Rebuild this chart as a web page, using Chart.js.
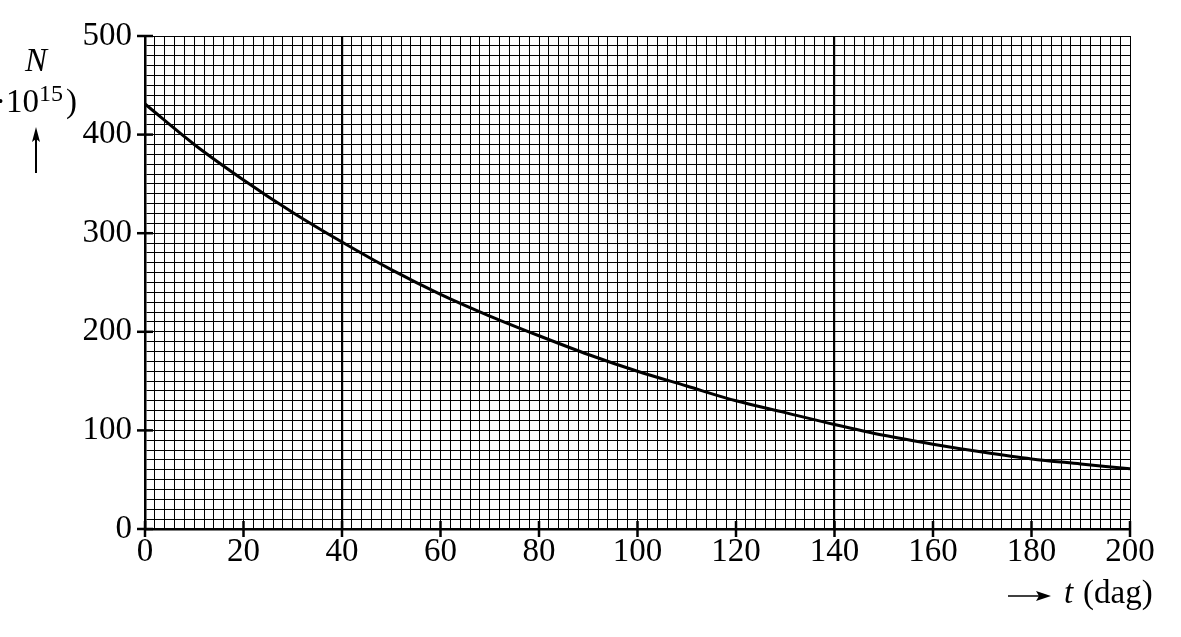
<!DOCTYPE html>
<html>
<head>
<meta charset="UTF-8">
<title>N tegen t</title>
<script src="https://cdn.jsdelivr.net/npm/chart.js@4.4.1/dist/chart.umd.min.js"></script>
<style>
  body { margin: 0; background: #fff; }
  canvas { display: block; }
</style>
</head>
<body>
<canvas id="myChart" width="1181" height="637"></canvas>
<script>
// t (dag) en N (x 10^15)
var tValues = [0, 10, 20, 30, 40, 50, 60, 70, 80, 90, 100, 110, 120, 130, 140, 150, 160, 170, 180, 190, 200];
var nValues = [431, 390, 354, 321, 291, 263, 238, 216, 196, 177, 160, 145, 130, 118, 106, 95, 86, 78, 71, 66, 61];
var xTickLabels = [0, 20, 40, 60, 80, 100, 120, 140, 160, 180, 200];
var yTickLabels = [0, 100, 200, 300, 400, 500];
var boldLines = [40, 140];

var serif = "'Liberation Serif', 'DejaVu Serif', serif";

var points = [];
for (var i = 0; i < tValues.length; i++) {
  points.push({ x: tValues[i], y: nValues[i] });
}

// kruisende streepjes bij de getallen + aslabels
var extras = {
  id: 'extras',
  afterDraw: function (chart) {
    var ctx = chart.ctx;
    var xs = chart.scales.x, ys = chart.scales.y;
    ctx.save();
    ctx.strokeStyle = '#000';
    ctx.lineWidth = 2.5;
    xTickLabels.forEach(function (v) {
      var px = xs.getPixelForValue(v);
      ctx.beginPath();
      ctx.moveTo(px, ys.bottom - 8);
      ctx.lineTo(px, ys.bottom + 8);
      ctx.stroke();
    });
    yTickLabels.forEach(function (v) {
      var py = ys.getPixelForValue(v);
      ctx.beginPath();
      ctx.moveTo(xs.left - 8, py);
      ctx.lineTo(xs.left + 8, py);
      ctx.stroke();
    });

    ctx.fillStyle = '#000';
    ctx.textBaseline = 'alphabetic';

    // y-as label
    ctx.font = 'italic 33px ' + serif;
    ctx.textAlign = 'center';
    ctx.fillText('N', 36, 71);
    ctx.font = '33px ' + serif;
    ctx.textAlign = 'right';
    ctx.fillText('(\u00b710', 39, 112);
    ctx.textAlign = 'left';
    ctx.font = '24px ' + serif;
    ctx.fillText('15', 39, 101);
    ctx.font = '33px ' + serif;
    ctx.fillText(')', 66, 112);

    // pijl omhoog
    ctx.lineWidth = 2;
    ctx.beginPath();
    ctx.moveTo(36, 173);
    ctx.lineTo(36, 135);
    ctx.stroke();
    ctx.beginPath();
    ctx.moveTo(36, 127);
    ctx.lineTo(32, 142);
    ctx.lineTo(36, 139);
    ctx.lineTo(40, 142);
    ctx.closePath();
    ctx.fill();

    // x-as label
    ctx.lineWidth = 1.5;
    ctx.beginPath();
    ctx.moveTo(1008, 596);
    ctx.lineTo(1042, 596);
    ctx.stroke();
    ctx.beginPath();
    ctx.moveTo(1051, 596);
    ctx.lineTo(1036, 591);
    ctx.lineTo(1039, 596);
    ctx.lineTo(1036, 601);
    ctx.closePath();
    ctx.fill();
    ctx.textAlign = 'left';
    ctx.font = 'italic 33px ' + serif;
    ctx.fillText('t', 1064, 603);
    ctx.font = '33px ' + serif;
    ctx.fillText('(dag)', 1083, 603);
    ctx.restore();
  }
};

var ctx = document.getElementById('myChart').getContext('2d');
var myChart = new Chart(ctx, {
  type: 'line',
  data: {
    datasets: [{
      data: points,
      borderColor: '#000',
      borderWidth: 3,
      pointRadius: 0,
      fill: false,
      cubicInterpolationMode: 'monotone'
    }]
  },
  options: {
    responsive: false,
    animation: false,
    layout: { padding: { left: 0, right: 51, top: 36, bottom: 0 } },
    plugins: { legend: { display: false }, tooltip: { enabled: false } },
    scales: {
      x: {
        type: 'linear',
        min: 0,
        max: 200,
        afterFit: function (s) { s.height = 108; },
        ticks: {
          stepSize: 2,
          autoSkip: false,
          maxRotation: 0,
          padding: 4,
          color: '#000',
          font: { family: serif, size: 33 },
          callback: function (v) { return xTickLabels.indexOf(v) >= 0 ? String(v) : ''; }
        },
        grid: {
          color: '#000',
          drawTicks: false,
          lineWidth: function (c) { return boldLines.indexOf(c.tick.value) >= 0 ? 2.2 : 1; }
        },
        border: { color: '#000', width: 2.5 }
      },
      y: {
        min: 0,
        max: 500,
        afterFit: function (s) { s.width = 145; },
        ticks: {
          stepSize: 10,
          autoSkip: false,
          padding: 13,
          color: '#000',
          font: { family: serif, size: 33 },
          callback: function (v) { return yTickLabels.indexOf(v) >= 0 ? String(v) : ''; }
        },
        grid: { color: '#000', drawTicks: false, lineWidth: 1 },
        border: { color: '#000', width: 2.5 }
      }
    }
  },
  plugins: [extras]
});
</script>
</body>
</html>
